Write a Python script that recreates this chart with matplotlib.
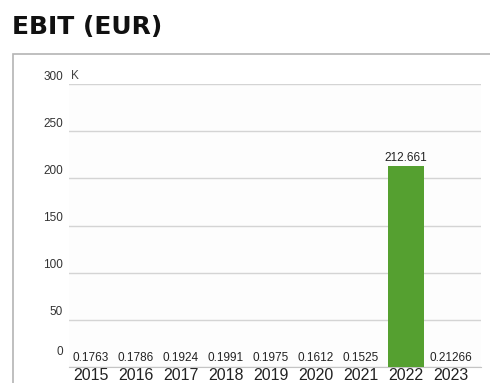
import matplotlib.pyplot as plt
from matplotlib.patches import Rectangle

# EBIT per year, in thousands of EUR
years = ["2015", "2016", "2017", "2018", "2019", "2020", "2021", "2022", "2023"]
ebit = [0.1763, 0.1786, 0.1924, 0.1991, 0.1975, 0.1612, 0.1525, 212.661, 0.21266]
labels = ["0.1763", "0.1786", "0.1924", "0.1991", "0.1975", "0.1612", "0.1525", "212.661", "0.21266"]
yticks = [0, 50, 100, 150, 200, 250, 300]

plt.rcParams['font.family'] = ['Liberation Sans', 'DejaVu Sans']

fig = plt.figure(figsize=(4.9, 3.83), dpi=100)

# outer panel frame
fig.patches.append(Rectangle((13 / 490, -0.05), 1.0, (383 - 54) / 383 + 0.05,
                             transform=fig.transFigure, fill=False,
                             edgecolor="#b4b4b4", linewidth=1.2))

fig.text(12 / 490, 1 - 27 / 383, "EBIT (EUR)", fontsize=18, fontweight="bold",
         family="DejaVu Sans", va="center", ha="left", color="#111111")

ax = fig.add_axes([69 / 490, 16 / 383, 412 / 490, 283 / 383])
x = range(len(years))
ax.bar(x, ebit, width=0.79, color="#55a030", zorder=3)

for i, (v, s) in enumerate(zip(ebit, labels)):
    ax.text(i, v + 3, s, ha="center", va="bottom", fontsize=8.5, color="#222222", zorder=4)

ax.set_xlim(-0.49, 8.67)
ax.set_ylim(0, 300)
ax.set_yticks(yticks)
ax.set_yticklabels([])
# y labels sit just above their grid lines, the zero label a bit higher
for t in yticks:
    off = 9 if t == 0 else 1.5
    ax.annotate(str(t), xy=(0, t), xycoords=ax.get_yaxis_transform(),
                xytext=(-6, off), textcoords="offset pixels",
                fontsize=8.5, color="#333333", ha="right", va="bottom")
ax.set_xticks(list(x))
ax.set_xticklabels(years, fontsize=11.5, color="#222222")
ax.tick_params(axis="both", length=0)
ax.tick_params(axis="x", pad=1)
ax.yaxis.grid(True, color="#d4d4d4", linewidth=1)
ax.set_axisbelow(True)
for side in ["top", "right", "left"]:
    ax.spines[side].set_visible(False)
ax.spines["bottom"].set_color("#c4c4c4")
ax.set_facecolor("#fdfdfd")

ax.text(0.005, 300 + 2, "K", transform=ax.get_yaxis_transform(), fontsize=8.5,
        color="#444444", va="bottom", ha="left")

fig.savefig("out.png", dpi=100)
